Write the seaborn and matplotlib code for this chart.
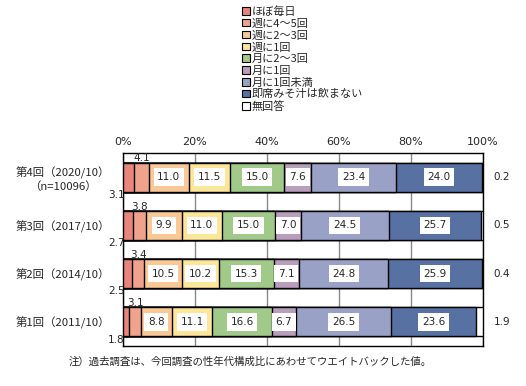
import matplotlib
matplotlib.use("Agg")
import matplotlib.pyplot as plt
import numpy as np
import pandas as pd
import seaborn as sns
from matplotlib.patches import Patch

ROUNDS = ["第4回（2020/10）\n（n=10096）", "第3回（2017/10）", "第2回（2014/10）", "第1回（2011/10）"]
FREQS = ["ほぼ毎日", "週に4～5回", "週に2～3回", "週に1回", "月に2～3回",
         "月に1回", "月に1回未満", "即席みそ汁は飲まない", "無回答"]
V4 = [3.1, 4.1, 11.0, 11.5, 15.0, 7.6, 23.4, 24.0, 0.2]
V3 = [2.7, 3.8, 9.9, 11.0, 15.0, 7.0, 24.5, 25.7, 0.5]
V2 = [2.5, 3.4, 10.5, 10.2, 15.3, 7.1, 24.8, 25.9, 0.4]
V1 = [1.8, 3.1, 8.8, 11.1, 16.6, 6.7, 26.5, 23.6, 1.9]
COLORS = ["#E9857A", "#EFA38C", "#F9C896", "#FDE59A", "#A1C98A",
          "#B89DBD", "#9AA1C6", "#5771A3", "#FFFFFF"]
NOTE = "注）過去調査は、今回調査の性年代構成比にあわせてウエイトバックした値。"

sns.set_style("white")
plt.rcParams["font.family"] = ["Noto Sans CJK JP", "DejaVu Sans"]

vals = np.array([V4, V3, V2, V1])
cum = vals.cumsum(axis=1)
df = pd.DataFrame(cum, index=ROUNDS, columns=FREQS)
# scale cumulative so every bar ends exactly at 100
df = df.div(df.iloc[:, -1], axis=0) * 100

fig = plt.figure(figsize=(5.26, 3.86), dpi=100)
ax = fig.add_axes([0.2338, 0.1036, 0.6844, 0.5])

for i in range(len(FREQS) - 1, -1, -1):
    sub = pd.DataFrame({"round": ROUNDS, "v": df.iloc[:, i].values})
    sns.barplot(data=sub, y="round", x="v", order=ROUNDS, color=COLORS[i],
                saturation=1, width=0.6, edgecolor="black", linewidth=1.0,
                orient="h", ax=ax, zorder=3)

ax.set_xlim(0, 100)
ax.set_ylim(3.5, -0.5)
ax.set_xticks([0, 20, 40, 60, 80, 100])
ax.set_xticklabels([f"{t}%" for t in [0, 20, 40, 60, 80, 100]], fontsize=8,
                   family=["DejaVu Sans"])
ax.xaxis.tick_top()
ax.tick_params(axis="x", length=0, pad=4)
ax.grid(axis="x", color="#888888", lw=1.0, zorder=0)
ax.set_axisbelow(True)
ax.set_xlabel("")
ax.set_ylabel("")
ax.set_yticks(range(len(ROUNDS)))
ax.set_yticklabels(ROUNDS, fontsize=8.2, multialignment="center")
ax.tick_params(axis="y", length=0, pad=9)
for s in ax.spines.values():
    s.set_color("black")
    s.set_linewidth(1.0)

left = np.hstack([np.zeros((4, 1)), df.values[:, :-1]])
right = df.values
for r in range(4):
    for c in range(len(FREQS)):
        v = vals[r, c]
        mid = (left[r, c] + right[r, c]) / 2
        if c == 0:
            ax.text(0.5, r + 0.37, f"{v:.1f}", ha="right", va="center",
                    fontsize=7.5, family=["DejaVu Sans"])
        elif c == 1:
            ax.text(mid, r - 0.39, f"{v:.1f}", ha="center", va="center",
                    fontsize=7.5, family=["DejaVu Sans"])
        elif c == len(FREQS) - 1:
            ax.text(103, r, f"{v:.1f}", ha="left", va="center",
                    fontsize=7.5, family=["DejaVu Sans"], clip_on=False)
        else:
            ax.text(mid, r, f"{v:.1f}", ha="center", va="center",
                    fontsize=7.5, family=["DejaVu Sans"], zorder=5,
                    bbox=dict(boxstyle="square,pad=0.35", fc="white", ec="none"))

handles = [Patch(facecolor=COLORS[i], edgecolor="black", linewidth=0.8, label=FREQS[i])
           for i in range(len(FREQS))]
fig.legend(handles=handles, loc="upper left", bbox_to_anchor=(0.445, 1.005),
           frameon=False, fontsize=8, handlelength=0.7, handleheight=0.7,
           handletextpad=0.2, labelspacing=0.15, borderpad=0.2)

fig.text(0.13, 0.062, NOTE, fontsize=7.5, va="center", ha="left")

fig.savefig("out.png", dpi=100)
